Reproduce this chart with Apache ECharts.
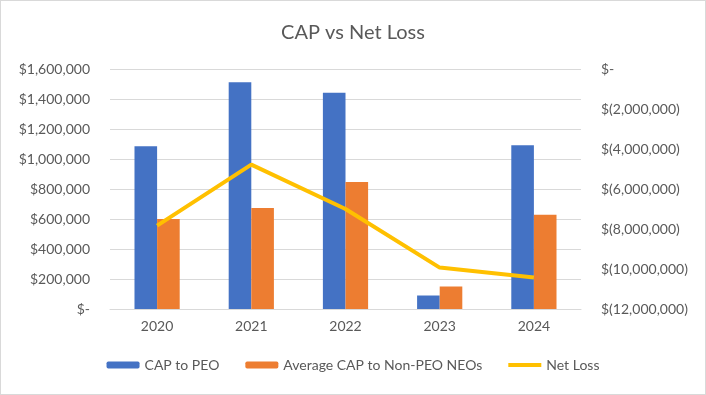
<!DOCTYPE html>
<html><head><meta charset="utf-8">
<script src="https://cdn.jsdelivr.net/npm/echarts@6/dist/echarts.min.js"></script>
<style>
html,body{margin:0;padding:0;background:#fff;}
#c{width:706px;height:395px;box-sizing:border-box;border:1px solid #d9d9d9;}
</style></head>
<body><div id="c"></div>
<script>
const categories = ['2020','2021','2022','2023','2024'];
const capToPEO = [1085000, 1512000, 1441000, 90000, 1091000];
const avgCapNonPEO = [600000, 674000, 846000, 150000, 628000];
const netLoss = [-7830000, -4780000, -7000000, -9930000, -10430000];

function fmt(v){
  if (v === 0) return '$-';
  const s = Math.abs(v).toLocaleString('en-US');
  return v < 0 ? '$(' + s + ')' : '$' + s;
}
const FONT = 'Lato, "Open Sans", sans-serif';
const chart = echarts.init(document.getElementById('c'));
chart.setOption({
  animation:false,
  title:{text:'CAP vs Net Loss', left:'center', top:17,
    textStyle:{fontFamily:FONT, fontSize:20, fontWeight:'normal', color:'#595959'}},
  legend:{bottom:17, left:'center', itemWidth:33, itemHeight:7, itemGap:26,
    textStyle:{fontFamily:FONT, fontSize:14, color:'#595959'},
    data:['CAP to PEO','Average CAP to Non-PEO NEOs',
      {name:'Net Loss', icon:'path://M0,0H33V4H0Z'}]},
  grid:{left:109, right:124, top:68, bottom:85},
  xAxis:{type:'category', data:categories,
    axisLine:{lineStyle:{color:'#d9d9d9'}}, axisTick:{show:false},
    axisLabel:{fontFamily:FONT, fontSize:14, color:'#595959', margin:10}},
  yAxis:[
    {type:'value', min:0, max:1600000, interval:200000,
      axisLabel:{formatter:fmt, fontFamily:FONT, fontSize:14, color:'#595959', margin:20},
      splitLine:{lineStyle:{color:'#d9d9d9'}}, axisLine:{show:false}, axisTick:{show:false}},
    {type:'value', min:-12000000, max:0, interval:2000000,
      axisLabel:{formatter:fmt, fontFamily:FONT, fontSize:14, color:'#595959', margin:20},
      splitLine:{show:false}, axisLine:{show:false}, axisTick:{show:false}}
  ],
  series:[
    {name:'CAP to PEO', type:'bar', data:capToPEO, itemStyle:{color:'#4472C4'}, barGap:'0%', barCategoryGap:'52%'},
    {name:'Average CAP to Non-PEO NEOs', type:'bar', data:avgCapNonPEO, itemStyle:{color:'#ED7D31'}, barGap:'0%', barCategoryGap:'52%'},
    {name:'Net Loss', type:'line', yAxisIndex:1, data:netLoss, symbol:'none',
      lineStyle:{color:'#FFC000', width:4}, itemStyle:{color:'#FFC000'}}
  ]
});
</script></body></html>
